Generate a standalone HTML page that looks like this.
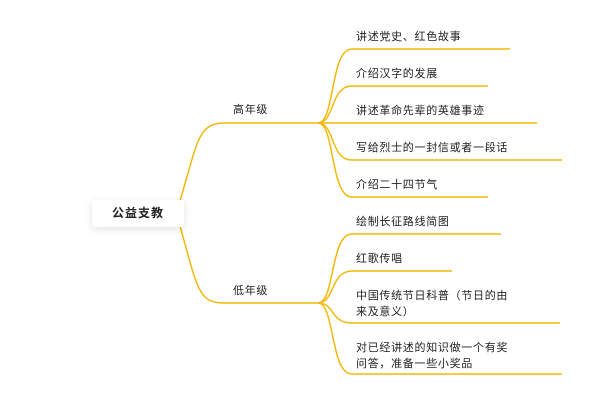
<!DOCTYPE html>
<html><head><meta charset="utf-8"><style>
body{margin:0;width:600px;height:400px;background:#fff;overflow:hidden;position:relative;font-family:"Liberation Sans","Noto Sans CJK SC",sans-serif;color:#222}
.t{position:absolute;font-size:11px;letter-spacing:0.7px;line-height:16px;white-space:nowrap}
.root{position:absolute;left:92px;top:200px;width:92px;height:27px;background:#fff;box-shadow:0 2px 8px rgba(0,0,0,0.12);border-radius:3px;font-size:12px;font-weight:bold;letter-spacing:1px;line-height:27px;text-align:center}
</style></head><body>
<svg width="600" height="400" style="position:absolute;left:0;top:0" fill="none" stroke="#f0b90b" stroke-width="1.5">
<path d="M180 201 C198 140,198 123,225 123 L318 123"/>
<path d="M180 226 C198 290,198 303,225 303 L318 303"/>
<path d="M318 123 C335 123,330 49,352 49 L510 49"/>
<path d="M318 123 C335 123,330 86,352 86 L488 86"/>
<path d="M318 123 L537 123"/>
<path d="M318 123 C335 123,330 160,352 160 L562 160"/>
<path d="M318 123 C335 123,330 197,352 197 L488 197"/>
<path d="M318 303 C335 303,330 234,352 234 L501 234"/>
<path d="M318 303 C335 303,330 271,352 271 L452 271"/>
<path d="M318 303 C335 303,330 323,352 323 L560 323"/>
<path d="M318 303 C335 303,330 374,352 374 L562 374"/>
</svg>
<div class="root">公益支教</div>
<div class="t" style="left:233px;top:102px">高年级</div>
<div class="t" style="left:233px;top:283px">低年级</div>
<div class="t" style="left:356px;top:29px">讲述党史、红色故事</div>
<div class="t" style="left:356px;top:66px">介绍汉字的发展</div>
<div class="t" style="left:356px;top:103px">讲述革命先辈的英雄事迹</div>
<div class="t" style="left:356px;top:140px">写给烈士的一封信或者一段话</div>
<div class="t" style="left:356px;top:177px">介绍二十四节气</div>
<div class="t" style="left:356px;top:214px">绘制长征路线简图</div>
<div class="t" style="left:356px;top:251px">红歌传唱</div>
<div class="t" style="left:356px;top:288px">中国传统节日科普（节日的由<br>来及意义）</div>
<div class="t" style="left:356px;top:340px">对已经讲述的知识做一个有奖<br>问答，准备一些小奖品</div>
</body></html>
